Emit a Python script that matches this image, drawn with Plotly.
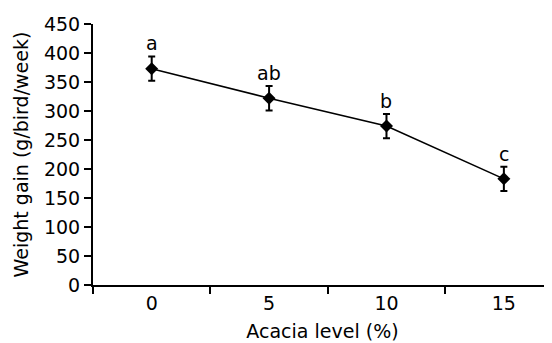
import plotly.graph_objects as go

categories = ["0", "5", "10", "15"]
weight_gain = [373, 322, 274, 183]
sem = [21, 21, 21, 21]
letters = ["a", "ab", "b", "c"]
y_ticks = [0, 50, 100, 150, 200, 250, 300, 350, 400, 450]

FONT = "DejaVu Sans, Liberation Sans, Arial"

fig = go.Figure()
fig.add_trace(go.Scatter(
    x=categories, y=weight_gain, mode="lines+markers",
    line=dict(color="black", width=1.6),
    marker=dict(symbol="diamond", size=10, color="black"),
    error_y=dict(type="data", array=sem, visible=True, color="black", thickness=2, width=3.5),
    showlegend=False,
))
for i, (v, e, t) in enumerate(zip(weight_gain, sem, letters)):
    fig.add_annotation(x=i, y=v + e, text=t, showarrow=False, yanchor="bottom", yshift=0,
                       font=dict(size=19, color="black", family=FONT))

fig.update_layout(
    width=544, height=335,
    margin=dict(l=85, r=0, t=16, b=58),
    paper_bgcolor="white", plot_bgcolor="white",
    font=dict(family=FONT, size=19, color="black"),
)
fig.update_xaxes(
    type="category", range=[-0.5, 3.41], tickson="boundaries",
    showline=True, linecolor="black", linewidth=2,
    ticks="outside", ticklen=7, tickwidth=2, tickcolor="black",
    showgrid=False, zeroline=False,
    title=dict(text="Acacia level (%)", font=dict(size=19), standoff=12),
    tickfont=dict(size=19),
)
fig.update_yaxes(
    range=[0, 450], tickvals=y_ticks,
    showline=True, linecolor="black", linewidth=2,
    ticks="outside", ticklen=7, tickwidth=2, tickcolor="black",
    showgrid=False, zeroline=False,
    title=dict(text="Weight gain (g/bird/week)", font=dict(size=19), standoff=10),
    tickfont=dict(size=19),
)
fig.write_html("out.html")
